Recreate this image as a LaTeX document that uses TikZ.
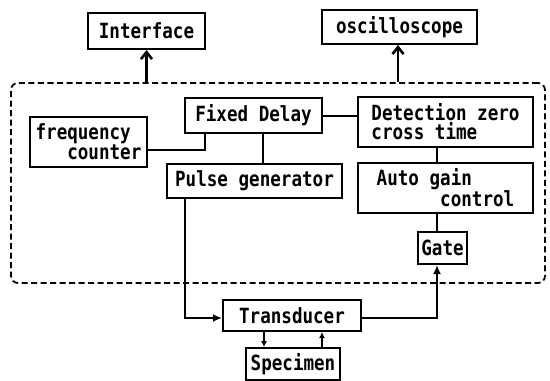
\documentclass[tikz,border=0pt]{standalone}
\usepackage{fontspec}
\setmonofont[FakeStretch=0.84]{DejaVu Sans Mono}
\usetikzlibrary{arrows.meta}

\begin{document}
\begin{tikzpicture}[
x=1bp, y=-1bp,
font=\ttfamily\bfseries\fontsize{21}{19}\selectfont,
box/.style={draw, line width=2bp, align=center, inner sep=2bp},
link/.style={line width=2bp},
arrow/.style={line width=2bp, -{Latex[length=9bp,width=8bp]}},
smallarrow/.style={line width=2bp, -{Latex[length=6bp,width=6bp]}},
outarrow/.style={line width=2.6bp, -{Straight Barb[length=7bp,width=11bp]}},
dashframe/.style={draw, dash pattern=on 6bp off 3.5bp, line width=1.8bp, rounded corners=7bp}
]
\useasboundingbox (0,0) rectangle (550,380);

\node[box, minimum width=117bp, minimum height=36bp] (iface) at (146.5,31) {Interface};
\node[box, minimum width=155bp, minimum height=34bp] (scope) at (399.5,27) {oscilloscope};
\node[dashframe, minimum width=534bp, minimum height=200bp] (ctrl) at (278,183) {};
\node[box, align=left, minimum width=117bp, minimum height=50bp] (freq) at (88.5,142) {frequency\\\phantom{xxx}counter};
\node[box, minimum width=137bp, minimum height=35bp] (delay) at (253.5,115.5) {Fixed Delay};
\node[box, align=left, minimum width=175bp, minimum height=50bp] (detect) at (445.5,122) {Detection zero\\cross time};
\node[box, minimum width=175bp, minimum height=34bp] (pulse) at (254.5,181) {Pulse generator};
\node[box, align=left, minimum width=175bp, minimum height=50bp] (agc) at (445.5,188) {Auto gain\\\phantom{xxxxxx}control};
\node[box, minimum width=49bp, minimum height=32bp] (gate) at (442.5,248) {Gate};
\node[box, minimum width=138bp, minimum height=31bp] (trans) at (292,315.5) {Transducer};
\node[box, minimum width=94bp, minimum height=32bp] (spec) at (293,364) {Specimen};

\draw[outarrow] (iface.south |- ctrl.north) -- (iface.south);
\draw[outarrow] ([xshift=-1.5bp]scope.south |- ctrl.north) -- ([xshift=-1.5bp]scope.south);
\draw[link] (delay.east) -- (delay.east -| detect.west);
\draw[link] ([yshift=-8bp]freq.east) -| ([xshift=-48.5bp]delay.south);
\draw[link] ([xshift=9.5bp]delay.south) -- ([xshift=9.5bp]delay.south |- pulse.north);
\draw[link] ([xshift=-8.5bp]detect.south) -- ([xshift=-8.5bp]detect.south |- agc.north);
\draw[link] ([xshift=-8.5bp]agc.south) -- ([xshift=-8.5bp]agc.south |- gate.north);
\draw[arrow] ([xshift=-69.5bp]pulse.south) |- ([yshift=-2.5bp]trans.west);
\draw[arrow] ([yshift=-2.5bp]trans.east) -| ([xshift=-5.5bp]gate.south);
\draw[smallarrow] ([xshift=-28bp]trans.south) -- ([xshift=-28bp]trans.south |- spec.north);
\draw[smallarrow] ([xshift=30bp]trans.south |- spec.north) -- ([xshift=30bp]trans.south);
\end{tikzpicture}
\end{document}
